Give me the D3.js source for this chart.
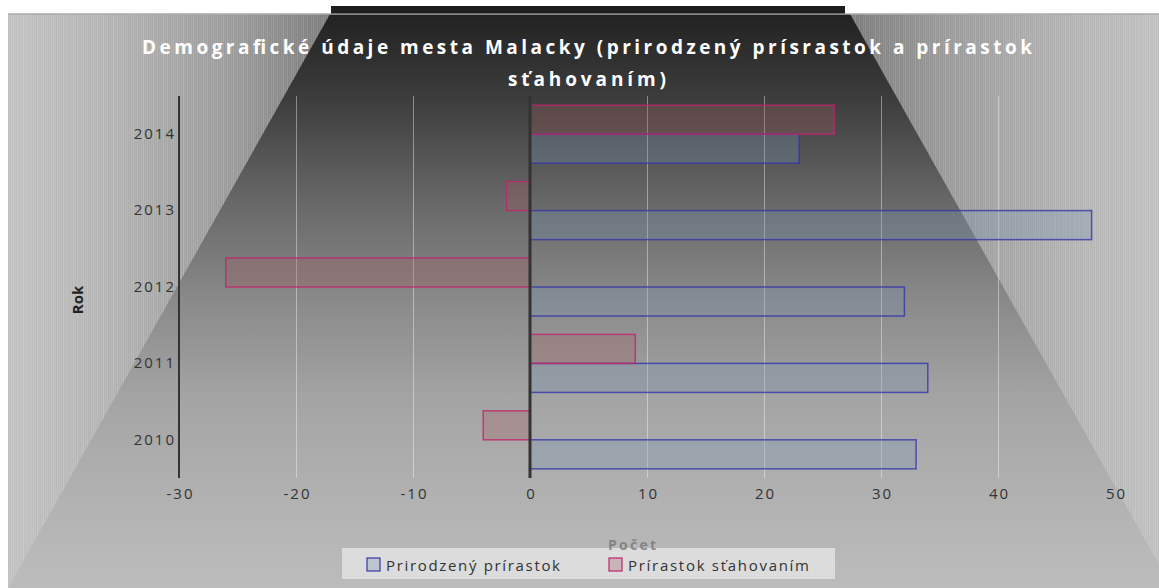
<!DOCTYPE html>
<html>
<head>
<meta charset="utf-8">
<script src="https://cdn.jsdelivr.net/npm/d3@7"></script>
<style>
  body { margin: 0; background: #fff; }
  text { font-family: 'Open Sans', 'Noto Sans', sans-serif; }
</style>
</head>
<body>
<svg id="canvas" width="1159" height="588"></svg>
<script>
// chart data
const years = ['2010', '2011', '2012', '2013', '2014']
const naturalGrowth = [33, 34, 32, 48, 23]
const migrationGrowth = [-4, 9, -26, -2, 26]
const xTicks = [-30, -20, -10, 0, 10, 20, 30, 40, 50]
const seriesNames = ['Prirodzený prírastok', 'Prírastok sťahovaním']
const titleLines = ['Demografické údaje mesta Malacky (prirodzený prísrastok a prírastok', 'sťahovaním)']

const svg = d3.select('#canvas')
const W = 1159, H = 588
const area = { left: 8, top: 14, right: 1159, bottom: 588 }
const plot = { left: 179, right: 1115, top: 96, bottom: 478 }
const defs = svg.append('defs')

// background: dark at the top centre, getting lighter downwards, lighter striped sides
const vGrad = defs.append('linearGradient').attr('id', 'bgV')
    .attr('gradientUnits', 'userSpaceOnUse')
    .attr('x1', 0).attr('y1', area.top).attr('x2', 0).attr('y2', area.bottom)
;[[0, '#222'], [0.15, '#3d3d3d'], [0.32, '#666'], [0.5, '#8a8a8a'], [0.67, '#a4a4a4'], [0.85, '#b2b2b2'], [1, '#bcbcbc']]
    .forEach(([o, c]) => vGrad.append('stop').attr('offset', o).attr('stop-color', c))

const sideGrad = (id, x1, x2) => {
    const g = defs.append('linearGradient').attr('id', id)
        .attr('gradientUnits', 'userSpaceOnUse')
        .attr('x1', x1).attr('y1', 0).attr('x2', x2).attr('y2', 0)
    ;[[0, '#7c7c7c'], [0.3, '#9a9a9a'], [0.7, '#b4b4b4'], [1, '#c2c2c2']]
        .forEach(([o, c]) => g.append('stop').attr('offset', o).attr('stop-color', c))
}
sideGrad('bgL', 330, 8)
sideGrad('bgR', 850, 1172)

svg.append('rect')
    .attr('x', area.left).attr('y', area.top)
    .attr('width', area.right - area.left).attr('height', area.bottom - area.top)
    .attr('fill', 'url(#bgV)')

const leftTri = [[area.left, area.top], [330, area.top], [area.left, area.bottom]]
const rightTri = [[850, area.top], [1200, area.top], [1200, area.bottom], [1172, area.bottom]]
svg.append('polygon').attr('points', leftTri.join(' ')).attr('fill', 'url(#bgL)')
svg.append('polygon').attr('points', rightTri.join(' ')).attr('fill', 'url(#bgR)')

// thin vertical stripes on the sides
const stripes = svg.append('g').attr('stroke', '#fff')
for (let x = area.left + 1, i = 0; x < 330; x += 2, i++) {
    const yb = area.top + (330 - x) / 322 * 574
    stripes.append('line').attr('x1', x + 0.5).attr('x2', x + 0.5)
        .attr('y1', area.top).attr('y2', yb)
        .attr('stroke-opacity', 0.05 + 0.1 * ((i * 7) % 5) / 4)
}
for (let x = 851, i = 0; x < W; x += 2, i++) {
    const yb = area.top + (x - 850) / 322 * 574
    stripes.append('line').attr('x1', x + 0.5).attr('x2', x + 0.5)
        .attr('y1', area.top).attr('y2', Math.min(yb, area.bottom))
        .attr('stroke-opacity', 0.05 + 0.1 * ((i * 7) % 5) / 4)
}

// top border and the dark tab above the chart
svg.append('line').attr('x1', area.left).attr('x2', W).attr('y1', 14).attr('y2', 14)
    .attr('stroke', '#aaa').attr('stroke-width', 1.5)
svg.append('rect').attr('x', 331).attr('y', 6).attr('width', 514).attr('height', 7.5).attr('fill', '#1e1e1e')

// scales
const x = d3.scaleLinear().domain([-30, 50]).range([plot.left, plot.right])
const y = d3.scaleBand().domain(years.slice().reverse()).range([plot.top, plot.bottom])
    .paddingInner(0.24).paddingOuter(0.12)
const ySub = d3.scaleBand().domain(['migration', 'natural']).range([0, y.bandwidth()])

// gridlines (none drawn at the ends or on the zero line)
svg.append('g').selectAll('line')
    .data(xTicks.filter(d => d !== -30 && d !== 0 && d !== 50))
    .join('line')
        .attr('x1', d => x(d) + 0.5).attr('x2', d => x(d) + 0.5)
        .attr('y1', plot.top).attr('y2', plot.bottom)
        .attr('stroke', '#fff').attr('stroke-opacity', 0.4).attr('stroke-width', 1)

// bars
const rows = years.map((yr, i) => ({ year: yr, natural: naturalGrowth[i], migration: migrationGrowth[i] }))
const series = [
    { key: 'natural', fill: 'rgb(118,147,180)', stroke: '#3636a6' },
    { key: 'migration', fill: 'rgb(160,92,94)', stroke: '#c0246e' }
]
series.forEach(s => {
    svg.append('g').selectAll('rect')
        .data(rows)
        .join('rect')
            .attr('x', d => x(Math.min(0, d[s.key])))
            .attr('y', d => y(d.year) + ySub(s.key))
            .attr('width', d => Math.abs(x(d[s.key]) - x(0)))
            .attr('height', ySub.bandwidth())
            .attr('fill', s.fill).attr('fill-opacity', 0.3)
            .attr('stroke', s.stroke).attr('stroke-opacity', 0.8).attr('stroke-width', 1.5)
})

// axis lines
svg.append('line').attr('x1', plot.left).attr('x2', plot.left)
    .attr('y1', plot.top).attr('y2', plot.bottom)
    .attr('stroke', '#333').attr('stroke-width', 2)
svg.append('line').attr('x1', x(0)).attr('x2', x(0))
    .attr('y1', plot.top).attr('y2', plot.bottom)
    .attr('stroke', '#333').attr('stroke-width', 3)

// tick labels, plain hyphen for negatives like the original
const xAxis = svg.append('g').attr('transform', `translate(0, ${plot.bottom})`)
    .call(d3.axisBottom(x).tickValues(xTicks).tickSize(0).tickPadding(10).tickFormat(d => String(d)))
xAxis.select('.domain').remove()
xAxis.selectAll('text')
    .attr('font-size', 15).attr('fill', '#333').attr('letter-spacing', 2)
    .attr('font-family', "'Open Sans', sans-serif")
    .attr('dx', 1)

const yAxis = svg.append('g').attr('transform', `translate(${plot.left}, 0)`)
    .call(d3.axisLeft(y).tickSize(0).tickPadding(3))
yAxis.select('.domain').remove()
yAxis.selectAll('text')
    .attr('font-size', 15).attr('fill', '#333').attr('letter-spacing', 2)
    .attr('font-family', "'Open Sans', sans-serif")

// title
svg.append('g').selectAll('text')
    .data(titleLines)
    .join('text')
        .attr('x', 587).attr('y', (d, i) => 54 + i * 32)
        .attr('text-anchor', 'middle')
        .attr('font-size', 19).attr('font-weight', 'bold').attr('fill', '#fff')
        .attr('textLength', (d, i) => i === 0 ? 890 : 158).attr('lengthAdjust', 'spacing')
        .text(d => d)

// axis titles
svg.append('text')
    .attr('transform', 'translate(83, 300) rotate(-90)')
    .attr('text-anchor', 'middle')
    .attr('font-size', 15).attr('font-weight', 'bold').attr('fill', '#222')
    .text('Rok')

// legend
const legend = svg.append('g')
legend.append('rect').attr('x', 342).attr('y', 548).attr('width', 493).attr('height', 31).attr('fill', '#dcdcdc')
svg.append('text')
    .attr('x', 632).attr('y', 550).attr('text-anchor', 'middle')
    .attr('font-size', 14).attr('font-weight', 'bold').attr('fill', '#7a7a7a').attr('fill-opacity', 0.85)
    .attr('textLength', 48).attr('lengthAdjust', 'spacing')
    .text('Počet')

const legendItems = [
    { name: seriesNames[0], x: 367, width: 174, s: series[0] },
    { name: seriesNames[1], x: 609, width: 181, s: series[1] }
]
const items = legend.selectAll('g.item').data(legendItems).join('g').attr('class', 'item')
items.append('rect')
    .attr('x', d => d.x).attr('y', 558).attr('width', 13).attr('height', 13)
    .attr('fill', d => d.s.fill).attr('fill-opacity', 0.3)
    .attr('stroke', d => d.s.stroke).attr('stroke-width', 1.2)
items.append('text')
    .attr('x', d => d.x + 19).attr('y', 571)
    .attr('font-size', 15).attr('fill', '#333')
    .attr('textLength', d => d.width).attr('lengthAdjust', 'spacing')
    .text(d => d.name)
</script>
</body>
</html>
